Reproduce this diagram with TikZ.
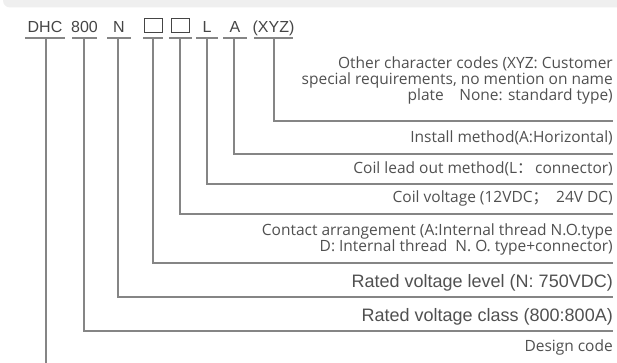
\documentclass[tikz,border=0pt]{standalone}
\usepackage{fontspec}
\setmainfont{Open Sans}
\newfontfamily\hdfont{Liberation Sans}
\newfontfamily\cjk{Noto Sans CJK SC}
\definecolor{txt}{HTML}{505050}
\definecolor{hd}{HTML}{454545}
\definecolor{ln}{HTML}{858585}
\definecolor{band}{HTML}{EFEFEF}
\begin{document}
\begin{tikzpicture}[x=1pt,y=-1pt,
  hdtxt/.style={anchor=base,inner sep=0pt,font=\hdfont\fontsize{16}{16}\selectfont,text=hd},
  desc/.style={anchor=east,inner sep=0pt,align=right,font=\fontsize{15.5}{16}\selectfont,text=txt},
  descb/.style={desc,font=\hdfont\fontsize{18}{18}\selectfont},
  conn/.style={draw=ln,line width=1.1pt},
  uline/.style={draw=ln,line width=1.1pt},
  boxmark/.style={draw=hd,line width=1pt,minimum width=18pt,minimum height=14pt,inner sep=0pt}]
\useasboundingbox (0,0) rectangle (617,363);
\begin{scope}
\clip (0,0) rectangle (617,363);
\fill[band,rounded corners=7pt] (3,-12) rectangle (650,7.5);
\end{scope}
% header
\node[hdtxt] (h1) at (45,33) {DHC};
\node[hdtxt] (h2) at (84.5,33) {800};
\node[hdtxt] (h3) at (119,33) {N};
\node[boxmark] (h4) at (153,25.5) {};
\node[boxmark] (h5) at (180.5,25.5) {};
\node[hdtxt] (h6) at (207,33) {L};
\node[hdtxt] (h7) at (235,33) {A};
\node[hdtxt] (h8) at (273.5,33) {(XYZ)};
% underlines
\draw[uline] (25,38) -- (65,38);
\draw[uline] (72,38) -- (97,38);
\draw[uline] (107,38) -- (131,38);
\draw[uline] (143,38) -- (163,38);
\draw[uline] (169,38) -- (192,38);
\draw[uline] (196,38) -- (218,38);
\draw[uline] (223,38) -- (247,38);
\draw[uline] (254,38) -- (293,38);
% anchor coordinates on the underlines
\coordinate (u1) at (46,38);
\coordinate (u2) at (84,38);
\coordinate (u3) at (118,38);
\coordinate (u4) at (153,38);
\coordinate (u5) at (180,38);
\coordinate (u6) at (207,38);
\coordinate (u7) at (234,38);
\coordinate (u8) at (274,38);
% line ends
\coordinate (e8) at (613,121);
\coordinate (e7) at (613,154);
\coordinate (e6) at (613,184);
\coordinate (e5) at (613,214);
\coordinate (e4) at (613,263);
\coordinate (e3) at (613,297);
\coordinate (e2) at (613,331);
\coordinate (e1) at (46,363);
% descriptions
\node[desc] (d8) at (613,80.5) {Other character codes (XYZ: Customer\\special requirements, no mention on name\\plate\quad None: standard type)};
\node[desc] (d7) at (613,138) {Install method(A:Horizontal)};
\node[desc] (d6) at (613,169) {Coil lead out method(L{\cjk ：}\,connector)};
\node[desc] (d5) at (613,198.5) {Coil voltage (12VDC{\cjk ；}\ \ 24V DC)};
\node[desc] (d4) at (613,239) {Contact arrangement (A:Internal thread N.O.type\\D: Internal thread\ \ N. O. type+connector)};
\node[descb] (d3) at (613,283) {Rated voltage level (N: 750VDC)};
\node[descb] (d2) at (613,317) {Rated voltage class (800:800A)};
\node[desc] (d1) at (613,347) {Design code};
% connectors
\draw[conn] (u8) |- (e8);
\draw[conn] (u7) |- (e7);
\draw[conn] (u6) |- (e6);
\draw[conn] (u5) |- (e5);
\draw[conn] (u4) |- (e4);
\draw[conn] (u3) |- (e3);
\draw[conn] (u2) |- (e2);
\draw[conn] (u1) -- (e1);
\end{tikzpicture}
\end{document}
